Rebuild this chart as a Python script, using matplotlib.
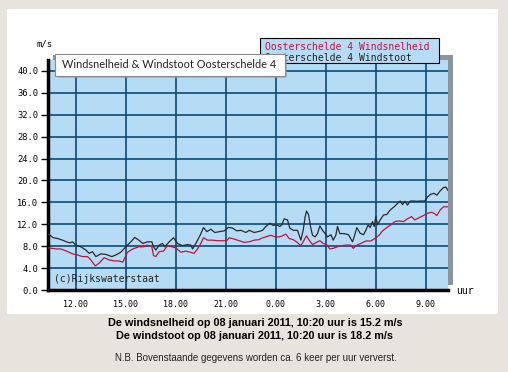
import numpy as np
import matplotlib.pyplot as plt
from matplotlib.patches import Rectangle, FancyBboxPatch

# Uren (na middernacht van 7 januari; >24 = 8 januari)
t_stoot = [10.36, 10.64, 10.90, 11.20, 11.44, 11.64, 11.80, 12.04, 12.30, 12.60,
           12.80, 13.00, 13.20, 13.50, 13.80, 14.16, 14.40, 14.70, 15.00, 15.30,
           15.54, 15.78, 16.02, 16.30, 16.56, 16.66, 16.80, 17.00, 17.20, 17.34,
           17.60, 17.86, 18.10, 18.40, 18.70, 18.90, 19.00, 19.20, 19.46, 19.66,
           19.86, 20.10, 20.34, 20.60, 20.90, 21.16, 21.40, 21.66, 21.90, 22.20,
           22.40, 22.70, 23.00, 23.20, 23.40, 23.64, 23.84, 24.04, 24.24, 24.36,
           24.50, 24.70, 24.84, 25.04, 25.30, 25.50, 25.64, 25.76, 25.84, 25.96,
           26.10, 26.20, 26.36, 26.50, 26.64, 26.80, 26.96, 27.10, 27.30, 27.44,
           27.60, 27.70, 27.84, 28.10, 28.36, 28.60, 28.70, 28.86, 29.06, 29.26,
           29.40, 29.54, 29.66, 29.80, 29.90, 30.00, 30.10, 30.26, 30.46, 30.66,
           30.86, 31.10, 31.30, 31.46, 31.60, 31.74, 31.90, 32.06, 32.26, 32.46,
           32.70, 32.94, 33.10, 33.30, 33.50, 33.66, 33.86, 34.06, 34.20, 34.33]
windstoot = [10.2, 9.55, 9.4, 9.1, 8.8, 8.6, 8.8, 8.1, 7.9, 7.3,
             6.7, 7.0, 6.1, 6.6, 6.5, 6.1, 6.4, 6.9, 7.9, 8.8,
             9.6, 9.1, 8.5, 8.8, 8.8, 7.9, 7.3, 8.2, 8.5, 7.9,
             8.8, 9.55, 8.5, 8.1, 8.3, 8.2, 7.5, 8.5, 10.0, 11.4,
             10.65, 11.1, 10.5, 10.65, 10.8, 11.45, 11.3, 10.8, 10.9, 10.5,
             10.9, 10.5, 10.7, 10.9, 11.6, 12.2, 11.8, 11.9, 11.6, 11.9,
             13.0, 12.8, 11.3, 10.9, 10.9, 9.1, 10.9, 13.4, 14.4, 13.8,
             11.3, 10.0, 9.7, 10.3, 11.7, 10.9, 10.3, 9.7, 10.1, 9.1,
             10.0, 11.6, 10.3, 10.3, 10.1, 8.8, 9.7, 11.4, 10.35, 10.1,
             10.9, 11.9, 11.4, 12.5, 11.6, 13.4, 11.9, 12.8, 13.7, 13.8,
             14.6, 15.2, 15.8, 16.25, 15.6, 16.2, 15.5, 16.25, 16.25, 16.2,
             16.25, 16.25, 17.0, 17.5, 17.65, 17.3, 18.1, 18.7, 18.8, 18.2]

t_snelheid = [10.36, 10.80, 11.10, 11.44, 11.80, 12.10, 12.40, 12.70, 12.90, 13.16,
              13.40, 13.70, 14.00, 14.30, 14.58, 14.82, 15.10, 15.42, 15.78, 16.08,
              16.30, 16.56, 16.66, 16.80, 17.00, 17.26, 17.50, 17.74, 18.00, 18.30,
              18.60, 18.86, 19.10, 19.30, 19.50, 19.66, 19.90, 20.20, 20.50, 20.80,
              21.06, 21.20, 21.50, 21.80, 22.10, 22.40, 22.70, 23.00, 23.10, 23.40,
              23.70, 23.96, 24.20, 24.40, 24.60, 24.80, 25.04, 25.24, 25.50, 25.64,
              25.84, 26.00, 26.20, 26.44, 26.64, 26.84, 27.04, 27.24, 27.44, 27.70,
              27.96, 28.24, 28.50, 28.64, 28.86, 29.10, 29.40, 29.70, 29.94, 30.20,
              30.40, 30.66, 30.90, 31.14, 31.40, 31.66, 31.90, 32.14, 32.34, 32.60,
              32.86, 33.10, 33.34, 33.50, 33.66, 33.86, 34.06, 34.33]
windsnelheid = [7.7, 7.5, 7.5, 7.1, 6.6, 6.4, 6.1, 6.1, 5.5, 4.4,
                4.9, 5.9, 5.5, 5.3, 5.3, 5.1, 6.9, 7.5, 7.9, 7.9,
                8.2, 7.9, 6.3, 6.1, 7.0, 7.1, 8.1, 7.9, 7.7, 6.9,
                7.1, 6.9, 6.7, 7.5, 8.5, 9.55, 9.1, 9.1, 9.0, 9.0,
                9.0, 9.55, 9.3, 9.0, 8.7, 8.8, 9.1, 9.2, 9.4, 9.7,
                10.0, 9.7, 9.7, 9.9, 10.2, 9.4, 9.2, 8.8, 8.1, 8.8,
                9.9, 9.1, 8.3, 8.7, 9.0, 8.5, 8.3, 7.5, 7.6, 7.9,
                8.1, 8.2, 8.2, 7.6, 8.2, 8.5, 8.95, 8.95, 9.4, 10.0,
                10.8, 11.4, 11.9, 12.5, 12.6, 12.5, 13.0, 13.4, 12.8, 13.2,
                13.6, 14.0, 14.2, 14.0, 13.6, 14.6, 15.2, 15.2]

x_ticks = [12, 15, 18, 21, 24, 27, 30, 33]
x_labels = ['12.00', '15.00', '18.00', '21.00', '0.00', '3.00', '6.00', '9.00']
y_ticks = np.arange(0, 41, 4)
y_labels = ['%.1f' % v for v in y_ticks]

W, H = 508, 372
fig = plt.figure(figsize=(W / 100, H / 100), dpi=100)
fig.patch.set_facecolor('#e6e4dc')

def px(x, y):
    # pixel (linksboven) naar figuurcoordinaten
    return x / W, 1 - y / H

# wit paneel
fig.patches.append(Rectangle(px(7, 314), 491 / W, 305 / H, transform=fig.transFigure,
                             facecolor='white', edgecolor='none', zorder=-3))
# grijze schaduw achter de grafiek
fig.patches.append(Rectangle(px(53, 285), 400 / W, 230 / H, transform=fig.transFigure,
                             facecolor='#8c959c', edgecolor='none', zorder=-2))

ax = fig.add_axes([48 / W, 1 - 290 / H, 400 / W, 230 / H])
ax.set_facecolor('#b5dcf4')
ax.set_xlim(10.33, 34.33)
ax.set_ylim(0, 42)

ax.set_xticks(x_ticks)
ax.set_xticklabels(x_labels, family='DejaVu Sans Mono', fontsize=6)
ax.set_yticks(y_ticks)
ax.set_yticklabels(y_labels, family='DejaVu Sans Mono', fontsize=6.3)
ax.tick_params(axis='y', length=5, width=1, pad=2)
ax.tick_params(axis='x', length=0, pad=7)
ax.grid(True, color='#0b4a78', linewidth=1.2)
ax.set_axisbelow(True)

for s in ['top', 'right']:
    ax.spines[s].set_visible(False)
ax.spines['left'].set_linewidth(2.5)
ax.spines['bottom'].set_linewidth(2.5)

ax.plot(t_stoot, windstoot, color='#2a2a2a', linewidth=0.9, zorder=3)
ax.plot(t_snelheid, windsnelheid, color='#c8103f', linewidth=0.9, zorder=3)

ax.text(0.015, 0.05, '(c)Rijkswaterstaat', transform=ax.transAxes,
        family='DejaVu Sans Mono', fontsize=7, color='#222222', va='center', zorder=4)

fig.text(*px(45, 44), 'm/s', family='DejaVu Sans Mono', fontsize=6.5, ha='center', va='center')
fig.text(*px(456, 291), 'uur', family='DejaVu Sans Mono', fontsize=7, ha='left', va='center')

# legenda
fig.patches.append(Rectangle(px(260, 63), 179 / W, 25 / H, transform=fig.transFigure,
                             facecolor='#b5dcf4', edgecolor='black', linewidth=0.8, zorder=5))
fig.text(*px(265, 47), 'Oosterschelde 4 Windsnelheid', family='DejaVu Sans Mono',
         fontsize=7, color='#c8103f', va='center', zorder=6)
fig.text(*px(265, 58), 'Oosterschelde 4 Windstoot', family='DejaVu Sans Mono',
         fontsize=7, color='#222222', va='center', zorder=6)

# tooltip
fig.patches.append(FancyBboxPatch(px(57, 78), 230 / W, 22 / H, transform=fig.transFigure,
                                  boxstyle='round,pad=0,rounding_size=0.006',
                                  facecolor='#a0a0a0', edgecolor='none', alpha=0.6, zorder=7))
fig.patches.append(Rectangle(px(55, 76), 230 / W, 22 / H, transform=fig.transFigure,
                             facecolor='white', edgecolor='#8a8a8a', linewidth=0.8, zorder=8))
fig.text(*px(62, 65), 'Windsnelheid & Windstoot Oosterschelde 4', family='Lato',
         fontsize=7.9, color='#222222', va='center', zorder=9)

fig.text(*px(255, 323), 'De windsnelheid op 08 januari 2011, 10:20 uur is 15.2 m/s',
         family='Liberation Sans', weight='bold', fontsize=7.8, ha='center', va='center')
fig.text(*px(255, 336), 'De windstoot op 08 januari 2011, 10:20 uur is 18.2 m/s',
         family='Liberation Sans', weight='bold', fontsize=7.8, ha='center', va='center')
fig.text(*px(256, 358), 'N.B. Bovenstaande gegevens worden ca. 6 keer per uur ververst.',
         family='Liberation Sans', fontsize=7, ha='center', va='center', color='#222222')

fig.savefig('out.png', dpi=100, facecolor=fig.get_facecolor())
